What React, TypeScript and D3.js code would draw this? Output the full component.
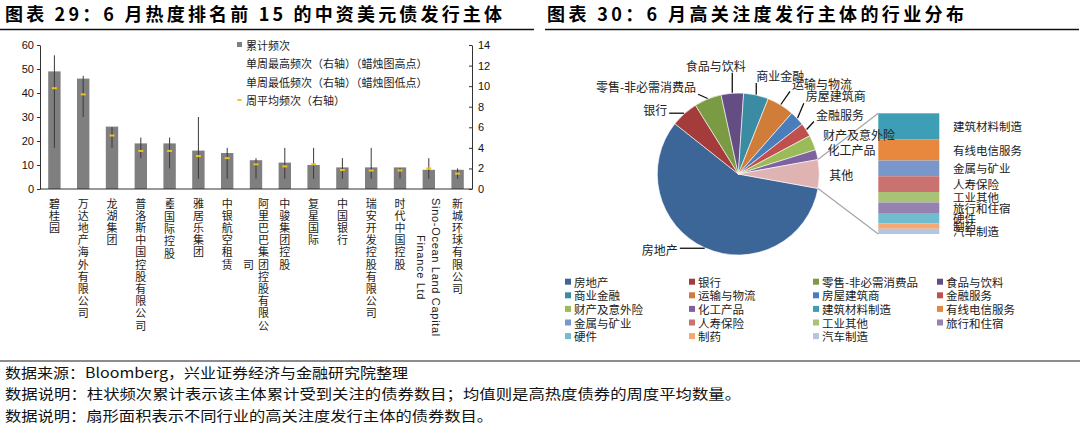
import * as d3 from "d3";
import React, { useEffect, useRef } from "react";

// ---- left chart data ----
const issuers = [
	"碧桂园",
	"万达地产海外有限公司",
	"龙湖集团",
	"普洛斯中国控股有限公司",
	"H&H国际控股",
	"雅居乐集团",
	"中银航空租赁",
	"阿里巴巴集团控股有限公司",
	"中骏集团控股",
	"复星国际",
	"中国银行",
	"瑞安开发控股有限公司",
	"时代中国控股",
	"Sino-Ocean Land Capital Finance Ltd",
	"新城环球有限公司",
];
const cumulative = [49, 46, 26, 19, 19, 16, 15, 12, 11, 10, 9, 9, 9, 8, 8];
const weeklyHigh = [13, 11, 6, 5, 5, 7, 4, 3, 4, 4, 3, 4, 2, 3, 2];
const weeklyLow = [4, 7, 4, 3, 2, 1, 1, 1, 1, 1, 1, 1, 1, 1, 1];
const weeklyAvg = [9.8, 9.2, 5.2, 3.7, 3.7, 3.2, 3.0, 2.4, 2.2, 2.4, 1.85, 1.8, 1.8, 2.0, 1.5];
const leftTicks = [0, 10, 20, 30, 40, 50, 60];
const rightTicks = [0, 2, 4, 6, 8, 10, 12, 14];
const barLegend = ["累计频次", "单周最高频次（右轴）（蜡烛图高点）", "单周最低频次（右轴）（蜡烛图低点）", "周平均频次（右轴）"];

// ---- right chart data ----
const industries = [
	"房地产", "银行", "零售-非必需消费品", "食品与饮料",
	"商业金融", "运输与物流", "房屋建筑商", "金融服务",
	"财产及意外险", "化工产品", "建筑材料制造", "有线电信服务",
	"金属与矿业", "人寿保险", "工业其他", "旅行和住宿",
	"硬件", "制药", "汽车制造",
];
const industryCounts = [233, 22, 22, 18, 20, 22, 12, 11, 12, 8, 5, 4, 3, 3, 2, 2, 2, 1, 1];
const industryColors = [
	"#3C6598", "#A33C3A", "#7A9A44", "#634D83",
	"#3B8CA3", "#D17D3A", "#4A7EBB", "#C0504D",
	"#9BBB59", "#7E62A0", "#3E9EB6", "#E8883F",
	"#7A97CC", "#C97270", "#A8C376", "#9582B1",
	"#72BCD0", "#F6A872", "#B4C5E0",
];
const mainSlices = 10;
const otherLabel = "其他";
const otherColor = "#DFB3B2";

const titles = ["图表 29：6 月热度排名前 15 的中资美元债发行主体", "图表 30：6 月高关注度发行主体的行业分布"];
const notes = [
	"数据来源：Bloomberg，兴业证券经济与金融研究院整理",
	"数据说明：柱状频次累计表示该主体累计受到关注的债券数目；均值则是高热度债券的周度平均数量。",
	"数据说明：扇形面积表示不同行业的高关注度发行主体的债券数目。",
];

const CJK = "'Noto Sans CJK SC', sans-serif";
const LATIN = "'Liberation Sans', Arial, sans-serif";

const isLatin = (s: string) => /^[A-Za-z0-9&\-\s]+$/.test(s);

// split a label into vertical columns
const wrapLabel = (s: string): string[] => {
	if (isLatin(s)) {
		const words = s.split(" ");
		const lines: string[] = [];
		let cur = "";
		words.forEach((w) => {
			if ((cur + " " + w).trim().length > 24) {
				lines.push(cur.trim());
				cur = w;
			} else cur = (cur + " " + w).trim();
		});
		if (cur) lines.push(cur);
		return lines;
	}
	const out: string[] = [];
	for (let i = 0; i < s.length; i += 11) out.push(s.slice(i, i + 11));
	return out;
};

const App = (): JSX.Element => {
	const svgRef = useRef<SVGSVGElement>(null);

	useEffect(() => {
		const svg = d3.select(svgRef.current);
		svg.selectAll("*").remove();

		// titles and rules
		svg.append("text").attr("x", 5).attr("y", 21).attr("font-family", CJK).attr("font-weight", 700)
			.attr("font-size", 18).attr("textLength", 497).attr("lengthAdjust", "spacing").text(titles[0]);
		svg.append("text").attr("x", 547).attr("y", 21).attr("font-family", CJK).attr("font-weight", 700)
			.attr("font-size", 18).attr("textLength", 417).attr("lengthAdjust", "spacing").text(titles[1]);
		svg.append("line").attr("x1", 0).attr("x2", 534).attr("y1", 29.5).attr("y2", 29.5).attr("stroke", "#111").attr("stroke-width", 1.3);
		svg.append("line").attr("x1", 545).attr("x2", 1079).attr("y1", 29.5).attr("y2", 29.5).attr("stroke", "#111").attr("stroke-width", 1.3);

		// ---------- left: bars ----------
		const x = d3.scaleBand<number>().domain(d3.range(issuers.length)).range([40, 472]).paddingInner(0.57).paddingOuter(0.285);
		const yL = d3.scaleLinear().domain([0, 60]).range([189, 45]);
		const yR = d3.scaleLinear().domain([0, 14]).range([189, 45]);
		const left = svg.append("g");

		left.selectAll("rect.bar").data(cumulative).join("rect")
			.attr("x", (_, i) => x(i)!)
			.attr("y", (d) => yL(d))
			.attr("width", x.bandwidth())
			.attr("height", (d) => 189 - yL(d))
			.attr("fill", "#7F7F7F");

		left.selectAll("line.wick").data(weeklyHigh).join("line")
			.attr("x1", (_, i) => x(i)! + x.bandwidth() / 2)
			.attr("x2", (_, i) => x(i)! + x.bandwidth() / 2)
			.attr("y1", (d) => yR(d))
			.attr("y2", (_, i) => yR(weeklyLow[i]))
			.attr("stroke", "#3A3A3A").attr("stroke-width", 1);

		left.selectAll("line.avg").data(weeklyAvg).join("line")
			.attr("x1", (_, i) => x(i)! + x.bandwidth() / 2 - 2.5)
			.attr("x2", (_, i) => x(i)! + x.bandwidth() / 2 + 2.5)
			.attr("y1", (d) => yR(d))
			.attr("y2", (d) => yR(d))
			.attr("stroke", "#F0C020").attr("stroke-width", 2);

		// axes
		const axL = left.append("g").attr("transform", "translate(40,0)")
			.call(d3.axisLeft(yL).tickValues(leftTicks).tickSizeInner(3).tickSizeOuter(0).tickPadding(3));
		const axR = left.append("g").attr("transform", "translate(472,0)")
			.call(d3.axisRight(yR).tickValues(rightTicks).tickSizeInner(-3).tickSizeOuter(0).tickPadding(6));
		[axL, axR].forEach((ax) => {
			ax.select(".domain").attr("stroke", "#333");
			ax.selectAll(".tick line").attr("stroke", "#333");
			ax.selectAll("text").attr("font-family", LATIN).attr("font-size", 11).attr("fill", "#111");
		});
		left.append("line").attr("x1", 40).attr("x2", 472).attr("y1", 189).attr("y2", 189).attr("stroke", "#333");

		// category labels, vertical columns
		const fs = 11;
		const pitch = 12.2;
		const top = 198;
		const cjkColumn = (colX: number, y: number, s: string) =>
			left.append("text").attr("x", colX).attr("y", y)
				.style("writing-mode", "vertical-rl").style("text-orientation", "upright")
				.attr("letter-spacing", pitch - fs)
				.attr("font-family", CJK).attr("font-size", fs).attr("fill", "#222").text(s);
		issuers.forEach((name, i) => {
			const cx = x(i)! + x.bandwidth() / 2;
			const lines = wrapLabel(name);
			const firstLen = isLatin(lines[0]) ? lines[0].length * 6.05 : lines[0].length * pitch;
			lines.forEach((ln, li) => {
				const colX = cx + ((lines.length - 1) / 2) * 15 - li * 15;
				if (isLatin(ln)) {
					left.append("text")
						.attr("transform", `translate(${colX},${li === 0 ? top : top + firstLen / 2}) rotate(90)`)
						.attr("font-family", LATIN).attr("font-size", fs).attr("letter-spacing", 0.7)
						.attr("dominant-baseline", "central").attr("fill", "#222")
						.attr("text-anchor", li === 0 ? "start" : "middle").text(ln);
					return;
				}
				let y = li === 0 ? top : top + firstLen / 2 - (ln.length * pitch) / 2;
				const m = ln.match(/^([A-Za-z0-9&\-]+)(.*)$/);
				if (m) {
					// leading latin run set sideways, compressed
					const len = m[1].length * 3.8;
					left.append("text").attr("transform", `translate(${colX},${y}) rotate(90)`)
						.attr("font-family", LATIN).attr("font-size", fs).attr("font-weight", 700)
						.attr("textLength", len).attr("lengthAdjust", "spacingAndGlyphs")
						.attr("dominant-baseline", "central").attr("fill", "#222").text(m[1]);
					y += len + 2;
					cjkColumn(colX, y, m[2]);
				} else cjkColumn(colX, y, ln);
			});
		});

		// legend
		barLegend.forEach((lab, i) => {
			const ly = 45 + i * 18.3;
			if (i === 0) left.append("rect").attr("x", 237).attr("y", ly - 3).attr("width", 5).attr("height", 5).attr("fill", "#7F7F7F");
			if (i === 3) left.append("line").attr("x1", 237.5).attr("x2", 241.5).attr("y1", ly).attr("y2", ly).attr("stroke", "#F0C020").attr("stroke-width", 2);
			left.append("text").attr("x", 246).attr("y", ly).attr("dominant-baseline", "central")
				.attr("font-family", CJK).attr("font-size", 11).attr("fill", "#222").text(lab);
		});

		// ---------- right: pie of pie ----------
		const cx = 738.3, cy = 174, r = 81;
		const rest = industryCounts.slice(mainSlices);
		const otherTotal = d3.sum(rest);
		const pieVals = [...industryCounts.slice(0, mainSlices), otherTotal];
		const pieNames = [...industries.slice(0, mainSlices), otherLabel];
		const pieColors = [...industryColors.slice(0, mainSlices), otherColor];
		const frac = otherTotal / d3.sum(pieVals);
		const a0 = Math.PI / 2 + frac * Math.PI;
		const arcs = d3.pie<number>().sort(null).value((d) => d).startAngle(a0).endAngle(a0 + 2 * Math.PI)(pieVals);
		const arc = d3.arc<d3.PieArcDatum<number>>().innerRadius(0).outerRadius(r);
		const pt = (a: number, rr: number): [number, number] => [cx + rr * Math.sin(a), cy - rr * Math.cos(a)];

		const right = svg.append("g");
		right.append("g").attr("transform", `translate(${cx},${cy})`)
			.selectAll("path").data(arcs).join("path")
			.attr("d", arc).attr("fill", (_, i) => pieColors[i]).attr("stroke", "#fff").attr("stroke-width", 0.6);

		// stacked bar of the remainder
		const bx = 878.3, bw = 61;
		const yB = d3.scaleLinear().domain([0, otherTotal]).range([113.3, 234]);
		const ends = d3.cumsum(rest);
		rest.forEach((v, i) => {
			const s = ends[i] - v;
			right.append("rect").attr("x", bx).attr("y", yB(s)).attr("width", bw).attr("height", yB(ends[i]) - yB(s))
				.attr("fill", industryColors[mainSlices + i]);
			right.append("text").attr("x", 953).attr("y", yB(s + v / 2)).attr("dominant-baseline", "central")
				.attr("font-family", CJK).attr("font-size", 11.5).attr("fill", "#222").text(industries[mainSlices + i]);
		});
		const oa = arcs[arcs.length - 1];
		const pTop = pt(oa.startAngle, r), pBot = pt(oa.endAngle, r);
		right.append("line").attr("x1", pTop[0]).attr("y1", pTop[1]).attr("x2", bx).attr("y2", 113.3).attr("stroke", "#A5A5A5").attr("stroke-width", 1.2);
		right.append("line").attr("x1", pBot[0]).attr("y1", pBot[1]).attr("x2", bx).attr("y2", 234).attr("stroke", "#A5A5A5").attr("stroke-width", 1.2);

		// slice labels: angle nudge (deg) and distance from centre
		const labelSpots: [number, number][] = [
			[21.7, 109], [-10.6, 105], [-24.5, 127], [-7.5, 111], [10.3, 107], [11.4, 123],
			[4.6, 125], [2.5, 118], [4.5, 127], [1.5, 116], [0, 103],
		];
		arcs.forEach((a, i) => {
			const mid = (a.startAngle + a.endAngle) / 2;
			const [dA, dist] = labelSpots[i];
			const [tx, ty] = pt(mid + (dA * Math.PI) / 180, dist);
			const t = right.append("text").attr("x", tx).attr("y", ty).attr("text-anchor", "middle")
				.attr("dominant-baseline", "central").attr("font-family", CJK).attr("font-size", 12)
				.attr("fill", "#222").text(pieNames[i]);
			const bb = (t.node() as SVGTextElement).getBBox();
			const [ax, ay] = pt(mid, r + 0.5);
			const ex = Math.max(bb.x - 2, Math.min(bb.x + bb.width + 2, ax));
			const ey = Math.max(bb.y + 1, Math.min(bb.y + bb.height - 1, ay));
			if (Math.hypot(ex - ax, ey - ay) > 10) {
				right.append("line").attr("x1", ax).attr("y1", ay).attr("x2", ex).attr("y2", ey).attr("stroke", "#111").attr("stroke-width", 1.3);
			}
		});

		// legend
		industries.forEach((lab, i) => {
			const col = i % 4, row = Math.floor(i / 4);
			const lx = 568 + col * 124, ly = 281.7 + row * 13.6;
			right.append("rect").attr("x", lx - 3).attr("y", ly - 3).attr("width", 6).attr("height", 6).attr("fill", industryColors[i]);
			right.append("text").attr("x", lx + 6).attr("y", ly).attr("dominant-baseline", "central")
				.attr("font-family", CJK).attr("font-size", 11.5).attr("fill", "#222").text(lab);
		});

		// footer
		svg.append("line").attr("x1", 0).attr("x2", 1080).attr("y1", 361).attr("y2", 361).attr("stroke", "#8C8C8C").attr("stroke-width", 2);
		const noteLens = [403, 736, 488];
		notes.forEach((n, i) => {
			svg.append("text").attr("x", 5).attr("y", 372 + i * 21.3).attr("dominant-baseline", "central")
				.attr("font-family", CJK).attr("font-size", 14).attr("fill", "#111")
				.attr("textLength", noteLens[i]).attr("lengthAdjust", "spacingAndGlyphs").text(n);
		});
	}, []);

	return (
		<svg
			ref={svgRef}
			width={1080}
			height={426}
			style={{ position: "absolute", left: 0, top: 0, background: "#fff" }}
		/>
	);
};

export default App;
